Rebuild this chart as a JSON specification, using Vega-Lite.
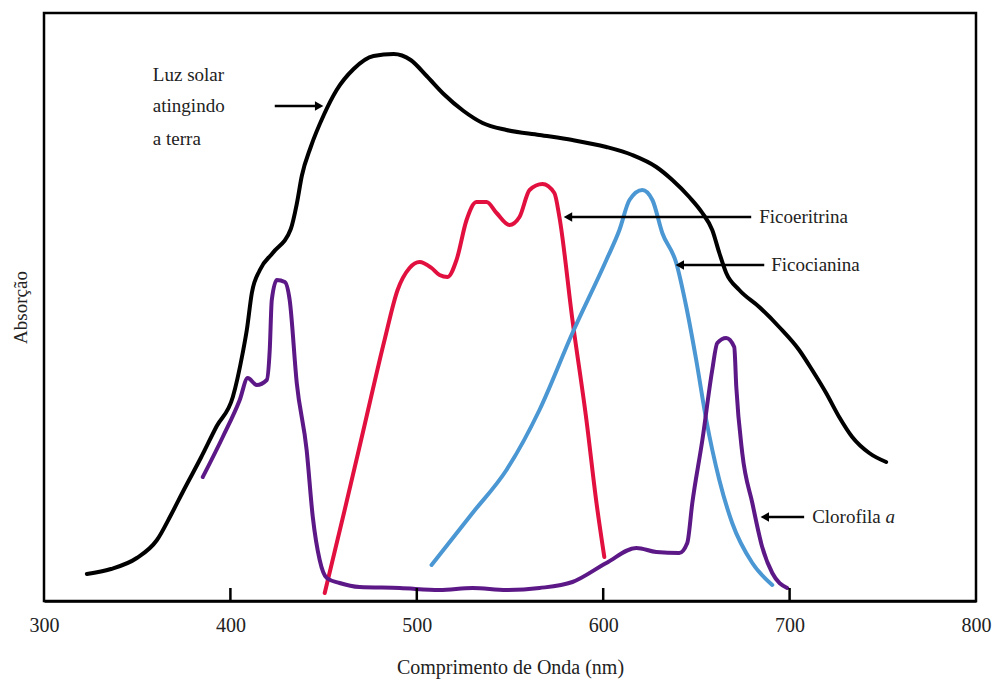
{
  "$schema": "https://vega.github.io/schema/vega-lite/v6.json",
  "width": 932,
  "height": 588,
  "autosize": {"type": "none"},
  "padding": {"left": 44, "top": 13, "right": 18, "bottom": 81},
  "background": "white",
  "config": {
    "view": {"stroke": "#000000", "strokeWidth": 2.5},
    "font": "Liberation Serif"
  },
  "datasets": {
    "curves": [
      {"s": "Luz solar", "nm": 323.0, "a": 27},
      {"s": "Luz solar", "nm": 335.9, "a": 32},
      {"s": "Luz solar", "nm": 349.8, "a": 43},
      {"s": "Luz solar", "nm": 360.6, "a": 61},
      {"s": "Luz solar", "nm": 368.1, "a": 86},
      {"s": "Luz solar", "nm": 375.0, "a": 111},
      {"s": "Luz solar", "nm": 384.1, "a": 143},
      {"s": "Luz solar", "nm": 392.7, "a": 175},
      {"s": "Luz solar", "nm": 401.3, "a": 204},
      {"s": "Luz solar", "nm": 406.6, "a": 248},
      {"s": "Luz solar", "nm": 408.8, "a": 271},
      {"s": "Luz solar", "nm": 411.5, "a": 308},
      {"s": "Luz solar", "nm": 415.8, "a": 331},
      {"s": "Luz solar", "nm": 422.7, "a": 348},
      {"s": "Luz solar", "nm": 432.4, "a": 372},
      {"s": "Luz solar", "nm": 435.6, "a": 397},
      {"s": "Luz solar", "nm": 438.3, "a": 425},
      {"s": "Luz solar", "nm": 443.1, "a": 454},
      {"s": "Luz solar", "nm": 450.1, "a": 486},
      {"s": "Luz solar", "nm": 457.0, "a": 511},
      {"s": "Luz solar", "nm": 466.1, "a": 532},
      {"s": "Luz solar", "nm": 476.8, "a": 545},
      {"s": "Luz solar", "nm": 487.6, "a": 547},
      {"s": "Luz solar", "nm": 496.7, "a": 541},
      {"s": "Luz solar", "nm": 505.3, "a": 525},
      {"s": "Luz solar", "nm": 514.4, "a": 507},
      {"s": "Luz solar", "nm": 525.1, "a": 490},
      {"s": "Luz solar", "nm": 535.3, "a": 478},
      {"s": "Luz solar", "nm": 548.1, "a": 471},
      {"s": "Luz solar", "nm": 565.8, "a": 466},
      {"s": "Luz solar", "nm": 583.5, "a": 461},
      {"s": "Luz solar", "nm": 601.7, "a": 454},
      {"s": "Luz solar", "nm": 615.6, "a": 446},
      {"s": "Luz solar", "nm": 628.5, "a": 434},
      {"s": "Luz solar", "nm": 637.1, "a": 421},
      {"s": "Luz solar", "nm": 646.2, "a": 404},
      {"s": "Luz solar", "nm": 653.2, "a": 388},
      {"s": "Luz solar", "nm": 658.5, "a": 371},
      {"s": "Luz solar", "nm": 662.3, "a": 348},
      {"s": "Luz solar", "nm": 666.0, "a": 328},
      {"s": "Luz solar", "nm": 673.0, "a": 311},
      {"s": "Luz solar", "nm": 683.7, "a": 294},
      {"s": "Luz solar", "nm": 694.4, "a": 274},
      {"s": "Luz solar", "nm": 705.1, "a": 251},
      {"s": "Luz solar", "nm": 712.1, "a": 231},
      {"s": "Luz solar", "nm": 719.6, "a": 208},
      {"s": "Luz solar", "nm": 726.6, "a": 184},
      {"s": "Luz solar", "nm": 733.6, "a": 164},
      {"s": "Luz solar", "nm": 742.7, "a": 148},
      {"s": "Luz solar", "nm": 751.8, "a": 139},

      {"s": "Ficoeritrina", "nm": 450.6, "a": 8},
      {"s": "Ficoeritrina", "nm": 461.3, "a": 91},
      {"s": "Ficoeritrina", "nm": 472.0, "a": 176},
      {"s": "Ficoeritrina", "nm": 482.7, "a": 261},
      {"s": "Ficoeritrina", "nm": 489.7, "a": 311},
      {"s": "Ficoeritrina", "nm": 496.1, "a": 333},
      {"s": "Ficoeritrina", "nm": 501.5, "a": 339},
      {"s": "Ficoeritrina", "nm": 507.9, "a": 333},
      {"s": "Ficoeritrina", "nm": 512.2, "a": 326},
      {"s": "Ficoeritrina", "nm": 516.5, "a": 324},
      {"s": "Ficoeritrina", "nm": 521.3, "a": 341},
      {"s": "Ficoeritrina", "nm": 526.7, "a": 381},
      {"s": "Ficoeritrina", "nm": 532.0, "a": 399},
      {"s": "Ficoeritrina", "nm": 537.4, "a": 399},
      {"s": "Ficoeritrina", "nm": 542.8, "a": 388},
      {"s": "Ficoeritrina", "nm": 549.7, "a": 376},
      {"s": "Ficoeritrina", "nm": 555.1, "a": 384},
      {"s": "Ficoeritrina", "nm": 560.5, "a": 411},
      {"s": "Ficoeritrina", "nm": 567.4, "a": 417},
      {"s": "Ficoeritrina", "nm": 573.8, "a": 408},
      {"s": "Ficoeritrina", "nm": 576.5, "a": 384},
      {"s": "Ficoeritrina", "nm": 583.5, "a": 281},
      {"s": "Ficoeritrina", "nm": 591.0, "a": 181},
      {"s": "Ficoeritrina", "nm": 596.4, "a": 98},
      {"s": "Ficoeritrina", "nm": 600.6, "a": 44},

      {"s": "Ficocianina", "nm": 507.9, "a": 36},
      {"s": "Ficocianina", "nm": 529.9, "a": 88},
      {"s": "Ficocianina", "nm": 548.1, "a": 131},
      {"s": "Ficocianina", "nm": 565.8, "a": 191},
      {"s": "Ficocianina", "nm": 583.5, "a": 268},
      {"s": "Ficocianina", "nm": 601.7, "a": 341},
      {"s": "Ficocianina", "nm": 608.7, "a": 371},
      {"s": "Ficocianina", "nm": 614.1, "a": 401},
      {"s": "Ficocianina", "nm": 621.0, "a": 411},
      {"s": "Ficocianina", "nm": 626.4, "a": 401},
      {"s": "Ficocianina", "nm": 631.7, "a": 368},
      {"s": "Ficocianina", "nm": 639.2, "a": 338},
      {"s": "Ficocianina", "nm": 644.6, "a": 294},
      {"s": "Ficocianina", "nm": 649.9, "a": 241},
      {"s": "Ficocianina", "nm": 655.3, "a": 181},
      {"s": "Ficocianina", "nm": 662.3, "a": 121},
      {"s": "Ficocianina", "nm": 669.2, "a": 78},
      {"s": "Ficocianina", "nm": 680.0, "a": 38},
      {"s": "Ficocianina", "nm": 690.7, "a": 16},

      {"s": "Clorofila a", "nm": 385.2, "a": 124},
      {"s": "Clorofila a", "nm": 395.9, "a": 164},
      {"s": "Clorofila a", "nm": 405.0, "a": 201},
      {"s": "Clorofila a", "nm": 409.3, "a": 223},
      {"s": "Clorofila a", "nm": 414.1, "a": 216},
      {"s": "Clorofila a", "nm": 419.5, "a": 221},
      {"s": "Clorofila a", "nm": 421.1, "a": 251},
      {"s": "Clorofila a", "nm": 422.2, "a": 301},
      {"s": "Clorofila a", "nm": 424.9, "a": 321},
      {"s": "Clorofila a", "nm": 429.2, "a": 319},
      {"s": "Clorofila a", "nm": 431.8, "a": 301},
      {"s": "Clorofila a", "nm": 435.6, "a": 218},
      {"s": "Clorofila a", "nm": 440.9, "a": 151},
      {"s": "Clorofila a", "nm": 444.2, "a": 84},
      {"s": "Clorofila a", "nm": 447.9, "a": 41},
      {"s": "Clorofila a", "nm": 451.7, "a": 23},
      {"s": "Clorofila a", "nm": 458.6, "a": 18},
      {"s": "Clorofila a", "nm": 469.3, "a": 14},
      {"s": "Clorofila a", "nm": 490.8, "a": 13},
      {"s": "Clorofila a", "nm": 512.2, "a": 11},
      {"s": "Clorofila a", "nm": 529.9, "a": 13},
      {"s": "Clorofila a", "nm": 548.1, "a": 11},
      {"s": "Clorofila a", "nm": 565.8, "a": 13},
      {"s": "Clorofila a", "nm": 583.5, "a": 19},
      {"s": "Clorofila a", "nm": 601.7, "a": 38},
      {"s": "Clorofila a", "nm": 617.8, "a": 53},
      {"s": "Clorofila a", "nm": 628.5, "a": 49},
      {"s": "Clorofila a", "nm": 640.8, "a": 48},
      {"s": "Clorofila a", "nm": 645.1, "a": 58},
      {"s": "Clorofila a", "nm": 647.8, "a": 98},
      {"s": "Clorofila a", "nm": 653.2, "a": 161},
      {"s": "Clorofila a", "nm": 658.5, "a": 231},
      {"s": "Clorofila a", "nm": 661.2, "a": 258},
      {"s": "Clorofila a", "nm": 666.0, "a": 263},
      {"s": "Clorofila a", "nm": 670.3, "a": 254},
      {"s": "Clorofila a", "nm": 671.4, "a": 214},
      {"s": "Clorofila a", "nm": 674.6, "a": 148},
      {"s": "Clorofila a", "nm": 680.0, "a": 98},
      {"s": "Clorofila a", "nm": 685.3, "a": 54},
      {"s": "Clorofila a", "nm": 690.7, "a": 28},
      {"s": "Clorofila a", "nm": 698.7, "a": 13}
    ],
    "ticks": [
      {"nm": 400},
      {"nm": 500},
      {"nm": 600},
      {"nm": 700}
    ],
    "labels": [
      {"t": "Luz solar", "x": 358.4, "y": 526},
      {"t": "atingindo", "x": 358.4, "y": 495},
      {"t": "a terra", "x": 358.4, "y": 462},
      {"t": "Ficoeritrina", "x": 683.7, "y": 384},
      {"t": "Ficocianina", "x": 690.1, "y": 336},
      {"t": "Clorofila", "x": 712.1, "y": 84}
    ],
    "arrows": [
      {"tail": 423.8, "head": 447.6, "y": 495, "dir": "right"},
      {"tail": 679.4, "head": 581.1, "y": 384, "dir": "left"},
      {"tail": 686.4, "head": 641.1, "y": 336, "dir": "left"},
      {"tail": 707.8, "head": 686.7, "y": 84, "dir": "left"}
    ]
  },
  "encoding": {
    "x": {"type": "quantitative"},
    "y": {"type": "quantitative"}
  },
  "layer": [
    {
      "data": {"name": "curves"},
      "mark": {"type": "line", "strokeWidth": 4, "interpolate": "monotone", "strokeCap": "round", "strokeJoin": "round"},
      "encoding": {
        "x": {
          "field": "nm", "type": "quantitative",
          "scale": {"domain": [300, 800], "nice": false, "zero": false},
          "axis": {
            "title": "Comprimento de Onda (nm)",
            "values": [300, 400, 500, 600, 700, 800],
            "grid": false,
            "ticks": false,
            "domainColor": "#000000",
            "domainWidth": 2.5,
            "labelFont": "Liberation Serif",
            "labelFontSize": 20,
            "labelColor": "#222222",
            "labelPadding": 14,
            "labelFlush": false,
            "titleFont": "Liberation Serif",
            "titleFontSize": 20,
            "titleFontWeight": "normal",
            "titleColor": "#222222",
            "titlePadding": 22
          }
        },
        "y": {
          "field": "a", "type": "quantitative",
          "scale": {"domain": [0, 588], "nice": false},
          "axis": {
            "title": "Absorção",
            "labels": false,
            "ticks": false,
            "domain": false,
            "grid": false,
            "titleFont": "Liberation Serif",
            "titleFontSize": 19,
            "titleFontWeight": "normal",
            "titleColor": "#222222",
            "titlePadding": 14
          }
        },
        "color": {
          "field": "s", "type": "nominal",
          "scale": {
            "domain": ["Luz solar", "Ficoeritrina", "Ficocianina", "Clorofila a"],
            "range": ["#000000", "#e2103f", "#4a97d3", "#5c1886"]
          },
          "legend": null
        }
      }
    },
    {
      "data": {"name": "ticks"},
      "mark": {"type": "rule", "color": "#000000", "strokeWidth": 2.5},
      "encoding": {
        "x": {"field": "nm", "type": "quantitative"},
        "y": {"datum": 0},
        "y2": {"datum": 13}
      }
    },
    {
      "data": {"name": "arrows"},
      "mark": {"type": "rule", "color": "#000000", "strokeWidth": 2.5},
      "encoding": {
        "x": {"field": "tail", "type": "quantitative"},
        "x2": {"field": "head"},
        "y": {"field": "y", "type": "quantitative"}
      }
    },
    {
      "data": {"name": "arrows"},
      "mark": {"type": "point", "filled": true, "color": "#000000", "opacity": 1, "size": 95, "strokeWidth": 0},
      "encoding": {
        "x": {"field": "head", "type": "quantitative"},
        "y": {"field": "y", "type": "quantitative"},
        "shape": {
          "field": "dir", "type": "nominal",
          "scale": {"domain": ["left", "right"], "range": ["triangle-left", "triangle-right"]},
          "legend": null
        }
      }
    },
    {
      "data": {"name": "labels"},
      "mark": {"type": "text", "align": "left", "baseline": "middle", "font": "Liberation Serif", "fontSize": 19, "color": "#222222"},
      "encoding": {
        "x": {"field": "x", "type": "quantitative"},
        "y": {"field": "y", "type": "quantitative"},
        "text": {"field": "t"}
      }
    },
    {
      "data": {"values": [{"t": "a", "x": 751.5, "y": 84}]},
      "mark": {"type": "text", "align": "left", "baseline": "middle", "font": "Liberation Serif", "fontSize": 19, "fontStyle": "italic", "color": "#222222"},
      "encoding": {
        "x": {"field": "x", "type": "quantitative"},
        "y": {"field": "y", "type": "quantitative"},
        "text": {"field": "t"}
      }
    }
  ]
}
